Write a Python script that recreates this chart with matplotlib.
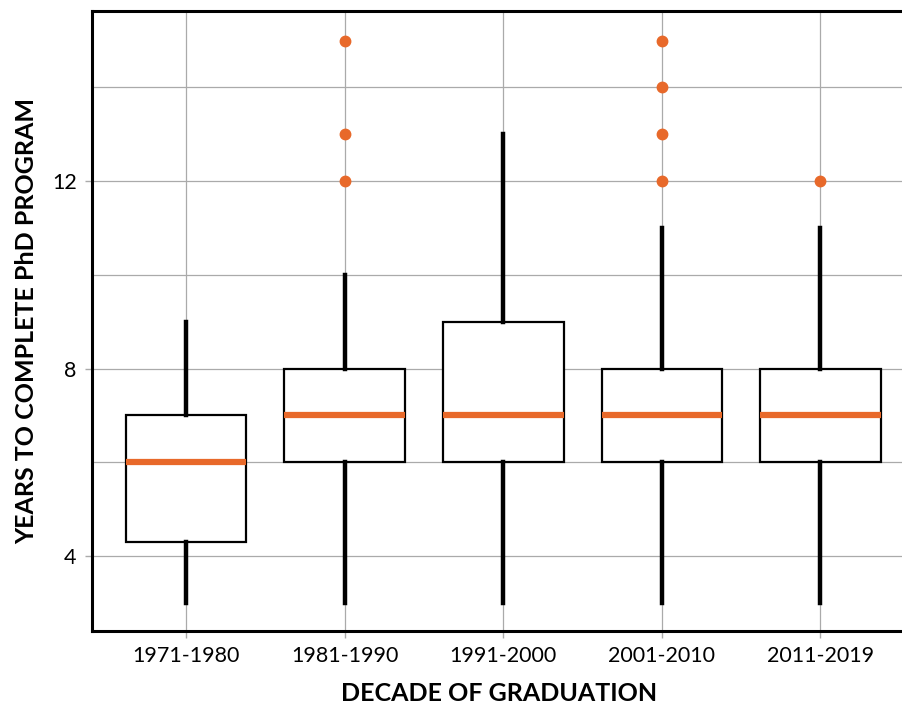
import matplotlib
matplotlib.use('Agg')

import matplotlib.pyplot as plt
from matplotlib.ticker import MultipleLocator

# Dados
decadas = ['1971-1980', '1981-1990', '1991-2000', '2001-2010', '2011-2019']
minimos = [3, 3, 3, 3, 3]
q1s = [4.3, 6, 6, 6, 6]
medianas = [6, 7, 7, 7, 7]
q3s = [7, 8, 9, 8, 8]
maximos = [9, 10, 13, 11, 11]
outliers = [[], [12, 13, 15], [], [12, 13, 14, 15], [12]]

LARANJA = '#e8692a'
CINZA = '#aaaaaa'

plt.rcParams['font.family'] = ['Lato', 'DejaVu Sans']

fig = plt.figure(figsize=(9.02, 7.04), dpi=100)
ax = fig.add_axes([92 / 902, (704 - 631) / 704, (906 - 92) / 902, (631 - 11) / 704])

stats = []
for i, nome in enumerate(decadas):
    stats.append({
        'label': nome,
        'whislo': minimos[i],
        'q1': q1s[i],
        'med': medianas[i],
        'q3': q3s[i],
        'whishi': maximos[i],
        'fliers': outliers[i],
    })

ax.bxp(stats, positions=range(1, len(decadas) + 1), widths=0.76,
       patch_artist=True, showcaps=False,
       boxprops=dict(facecolor='white', edgecolor='black', linewidth=1.6),
       medianprops=dict(color=LARANJA, linewidth=4.5, solid_capstyle='butt'),
       whiskerprops=dict(color='black', linewidth=3.2),
       flierprops=dict(marker='o', markerfacecolor=LARANJA, markeredgecolor=LARANJA,
                       markersize=7.5, linestyle='none'),
       zorder=3)

ax.set_xlim(0.406, 5.54)
ax.set_ylim(2.4, 15.63)
ax.yaxis.set_major_locator(MultipleLocator(4))
ax.yaxis.set_minor_locator(MultipleLocator(2))
ax.set_xticks(range(1, len(decadas) + 1))
ax.set_xticklabels(decadas)

ax.grid(True, which='both', color=CINZA, linewidth=0.9, zorder=0)
ax.set_axisbelow(True)
ax.tick_params(which='major', length=5, width=1, color=CINZA, labelsize=15.5, pad=6)
ax.tick_params(which='minor', length=0)

for lado in ['left', 'bottom', 'top']:
    ax.spines[lado].set_linewidth(2.2)
    ax.spines[lado].set_color('black')
ax.spines['right'].set_visible(False)

ax.set_xlabel('DECADE OF GRADUATION', fontsize=18, fontweight='bold')
ax.xaxis.set_label_coords(0.5, -0.083)
ax.set_ylabel('YEARS TO COMPLETE PhD PROGRAM', fontsize=18, fontweight='bold', labelpad=10)

fig.savefig('out.png', dpi=100)
